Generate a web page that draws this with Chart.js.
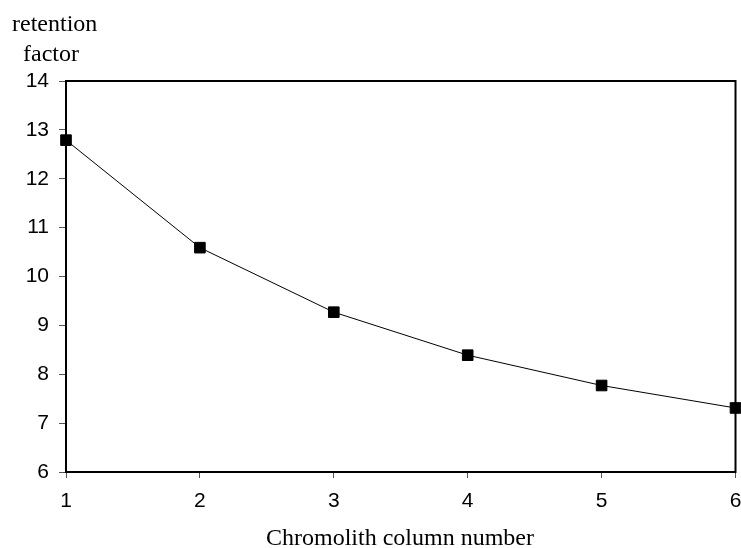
<!DOCTYPE html>
<html>
<head>
<meta charset="utf-8">
<script src="https://cdn.jsdelivr.net/npm/chart.js@4/dist/chart.umd.min.js"></script>
<style>
  html, body { margin: 0; padding: 0; background: #fff; overflow: hidden; }
  #wrap { position: relative; width: 741px; height: 548px; overflow: hidden; }
  canvas { position: absolute; left: 0; top: 0; }
  .ttl { position: absolute; font-family: "Liberation Serif", "Times New Roman", serif; font-size: 24px; color: #000; white-space: nowrap; line-height: 1; }
</style>
</head>
<body>
<div id="wrap">
  <canvas id="c" width="744" height="548"></canvas>
  <div class="ttl" id="yt1" style="left:12px; top:11px;">retention</div>
  <div class="ttl" id="yt2" style="left:23px; top:41px;">factor</div>
  <div class="ttl" id="xt" style="left:0; width:800px; text-align:center; top:525px;">Chromolith column number</div>
</div>
<script>
const columnNumbers = [1, 2, 3, 4, 5, 6];
const retentionFactor = [12.79, 10.59, 9.27, 8.39, 7.77, 7.31];
const yTicks = [6, 7, 8, 9, 10, 11, 12, 13, 14];

const boxPlugin = {
  id: 'box',
  afterDraw(chart) {
    const a = chart.chartArea, ctx = chart.ctx;
    ctx.save();
    ctx.strokeStyle = '#000';
    ctx.lineWidth = 2;
    ctx.strokeRect(a.left, a.top, a.right - a.left, a.bottom - a.top);
    ctx.restore();
  }
};

new Chart(document.getElementById('c'), {
  type: 'line',
  data: {
    datasets: [{
      data: columnNumbers.map((x, i) => ({ x: x, y: retentionFactor[i] })),
      borderColor: '#000',
      borderWidth: 1,
      backgroundColor: '#000',
      pointStyle: 'rect',
      pointRadius: 7.5,
      pointBorderWidth: 1,
      pointBorderColor: '#000',
      pointBackgroundColor: '#000',
      tension: 0,
      clip: false
    }]
  },
  options: {
    responsive: false,
    animation: false,
    devicePixelRatio: 1,
    layout: { padding: { top: 81, right: 2, left: 0, bottom: 0 } },
    plugins: { legend: { display: false }, tooltip: { enabled: false } },
    scales: {
      x: {
        type: 'linear',
        min: 1, max: 6,
        afterBuildTicks: s => { s.ticks = columnNumbers.map(v => ({ value: v })); },
        afterFit: s => { s.height = 76; s.paddingLeft = 0; s.paddingRight = 0; },
        border: { display: true, color: '#000', width: 2 },
        grid: { drawOnChartArea: false, drawTicks: true, tickLength: 6, color: '#555', lineWidth: 1 },
        ticks: { color: '#000', padding: 11, font: { family: 'Liberation Sans, Arial, sans-serif', size: 21 }, maxRotation: 0 }
      },
      y: {
        type: 'linear',
        min: 6, max: 14,
        afterBuildTicks: s => { s.ticks = yTicks.map(v => ({ value: v })); },
        afterFit: s => { s.width = 66; s.paddingTop = 0; s.paddingBottom = 0; },
        border: { display: true, color: '#000', width: 2 },
        grid: { drawOnChartArea: false, drawTicks: true, tickLength: 7, color: '#555', lineWidth: 1 },
        ticks: { color: '#000', padding: 10, font: { family: 'Liberation Sans, Arial, sans-serif', size: 21 } }
      }
    }
  },
  plugins: [boxPlugin]
});
</script>
</body>
</html>
